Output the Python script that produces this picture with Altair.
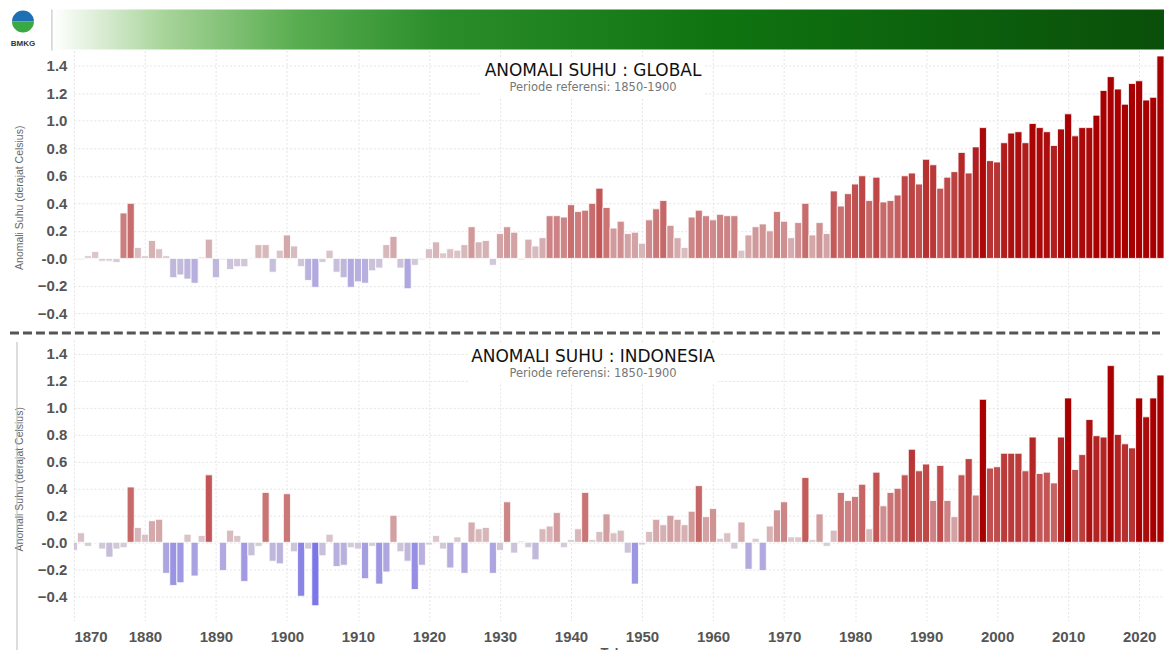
import altair as alt
import pandas as pd

years = list(range(1870, 2024))

global_anom = [
    -0.01, -0.01, 0.02, 0.05, -0.02, -0.02, -0.03, 0.33, 0.40, 0.08,   # 1870s
    0.02, 0.13, 0.07, 0.02, -0.14, -0.12, -0.15, -0.18, 0.01, 0.14,     # 1880s
    -0.14, -0.01, -0.08, -0.06, -0.06, 0.005, 0.10, 0.10, -0.10, 0.06,  # 1890s
    0.17, 0.09, -0.06, -0.16, -0.21, -0.03, 0.06, -0.10, -0.14, -0.21,  # 1900s
    -0.17, -0.18, -0.09, -0.07, 0.10, 0.16, -0.07, -0.22, -0.05, -0.01, # 1910s
    0.07, 0.12, 0.04, 0.07, 0.06, 0.10, 0.23, 0.12, 0.13, -0.05,        # 1920s
    0.18, 0.23, 0.19, -0.01, 0.14, 0.09, 0.15, 0.31, 0.31, 0.30,        # 1930s
    0.39, 0.34, 0.35, 0.40, 0.51, 0.37, 0.22, 0.27, 0.18, 0.19,         # 1940s
    0.11, 0.28, 0.36, 0.42, 0.24, 0.15, 0.08, 0.30, 0.35, 0.31,         # 1950s
    0.28, 0.32, 0.31, 0.31, 0.06, 0.17, 0.23, 0.25, 0.20, 0.34,         # 1960s
    0.27, 0.15, 0.26, 0.40, 0.17, 0.26, 0.18, 0.49, 0.38, 0.47,         # 1970s
    0.54, 0.60, 0.42, 0.59, 0.41, 0.42, 0.46, 0.60, 0.62, 0.54,         # 1980s
    0.72, 0.68, 0.51, 0.59, 0.63, 0.77, 0.62, 0.81, 0.95, 0.71,         # 1990s
    0.70, 0.84, 0.91, 0.92, 0.84, 0.98, 0.95, 0.92, 0.82, 0.94,         # 2000s
    1.05, 0.89, 0.95, 0.95, 1.04, 1.22, 1.32, 1.23, 1.12, 1.27,         # 2010s
    1.29, 1.15, 1.17, 1.47,                                             # 2020s
]

indo_anom = [
    -0.06, 0.07, -0.03, 0.00, -0.05, -0.11, -0.05, -0.04, 0.41, 0.11,   # 1870s
    0.06, 0.16, 0.17, -0.23, -0.32, -0.30, 0.06, -0.25, 0.05, 0.50,     # 1880s
    0.005, -0.21, 0.09, 0.05, -0.29, -0.10, -0.03, 0.37, -0.14, -0.16,  # 1890s
    0.36, -0.07, -0.40, -0.05, -0.47, -0.10, 0.06, -0.18, -0.17, -0.04, # 1900s
    -0.05, -0.27, -0.03, -0.31, -0.22, 0.20, -0.07, -0.14, -0.35, -0.17,# 1910s
    -0.02, 0.05, -0.05, -0.19, 0.04, -0.23, 0.15, 0.10, 0.11, -0.23,    # 1920s
    -0.06, 0.30, -0.08, 0.01, -0.04, -0.13, 0.10, 0.12, 0.22, -0.04,    # 1930s
    0.02, 0.10, 0.37, 0.02, 0.08, 0.21, 0.07, 0.09, -0.08, -0.31,       # 1940s
    -0.02, 0.08, 0.17, 0.13, 0.20, 0.17, 0.13, 0.23, 0.42, 0.19,        # 1950s
    0.25, 0.03, 0.07, -0.05, 0.15, -0.20, 0.03, -0.21, 0.12, 0.24,      # 1960s
    0.30, 0.04, 0.04, 0.48, 0.02, 0.21, -0.03, 0.09, 0.37, 0.31,        # 1970s
    0.34, 0.43, 0.10, 0.52, 0.27, 0.37, 0.40, 0.50, 0.69, 0.53,         # 1980s
    0.58, 0.31, 0.57, 0.31, 0.19, 0.50, 0.62, 0.35, 1.06, 0.55,         # 1990s
    0.56, 0.66, 0.66, 0.66, 0.53, 0.78, 0.51, 0.52, 0.44, 0.78,         # 2000s
    1.07, 0.54, 0.65, 0.91, 0.79, 0.78, 1.31, 0.80, 0.73, 0.70,         # 2010s
    1.07, 0.93, 1.07, 1.24,                                             # 2020s
]

decades = list(range(1870, 2030, 10))
y_ticks = [-0.4, -0.2, 0.0, 0.2, 0.4, 0.6, 0.8, 1.0, 1.2, 1.4]

title_global = "ANOMALI SUHU : GLOBAL"
title_indo = "ANOMALI SUHU : INDONESIA"
subtitle = "Periode referensi: 1850-1900"
y_title = "Anomali Suhu (derajat Celsius)"
x_title = "Tahun"

W = 1092
color_scale = alt.Scale(domain=[-1.0, 0.0, 0.45, 1.0],
                        range=["#1010ff", "#dcd2d6", "#c66060", "#a80000"],
                        clamp=True, interpolate="rgb")

one = pd.DataFrame({"k": [0]})


def panel(values, title, ydom, show_x, title_y, ytitle_y):
    df = pd.DataFrame({"Tahun": years, "Anomali": values})
    if show_x:
        xaxis = alt.Axis(values=decades, format="d", labelFlush=True, labelFlushOffset=0,
                         labelOverlap=False, labelPadding=9, grid=True, title=x_title,
                         titlePadding=2)
    else:
        xaxis = alt.Axis(values=decades, labels=False, grid=True, title=None)
    yaxis = alt.Axis(values=y_ticks,
                     labelExpr="datum.value == 0 ? '-0.0' : format(datum.value, '.1f')",
                     title=y_title, titlePadding=13, labelPadding=7, titleY=ytitle_y)
    bars = alt.Chart(df).transform_calculate(
        x0="datum.Tahun - 0.5", x1="datum.Tahun + 0.5", z="0"
    ).mark_bar(clip=True, stroke="white", strokeWidth=0.8).encode(
        x=alt.X("x0:Q", scale=alt.Scale(domain=[1870, 2023.5], nice=False, zero=False), axis=xaxis),
        x2="x1:Q",
        y=alt.Y("Anomali:Q", scale=alt.Scale(domain=ydom, nice=False, zero=False), axis=yaxis),
        y2="z:Q",
        color=alt.Color("Anomali:Q", scale=color_scale, legend=None),
    )
    box = alt.Chart(one).mark_rect(fill="white").encode(
        x=alt.value(395 if show_x else 408), x2=alt.value(645 if show_x else 632),
        y=alt.value(title_y - 13), y2=alt.value(title_y + 26))
    t1 = alt.Chart(one).mark_text(font="DejaVu Sans", fontSize=17, color="#111",
                                  baseline="middle", align="center").encode(
        x=alt.value(520), y=alt.value(title_y), text=alt.value(title))
    t2 = alt.Chart(one).mark_text(font="DejaVu Sans", fontSize=11.5, color="#777",
                                  baseline="middle", align="center").encode(
        x=alt.value(520), y=alt.value(title_y + 17), text=alt.value(subtitle))
    return bars, box, t1, t2


b1, box1, t1a, t1b = panel(global_anom, title_global, [-0.52, 1.51], False, 21, 147)
b2, box2, t2a, t2b = panel(indo_anom, title_indo, [-0.58, 1.5], True, 17, 139)

# header decorations (slide banner)
header = alt.Chart(one).mark_rect(
    color=alt.Gradient(gradient="linear",
                       stops=[alt.GradientStop(color="#ffffff", offset=0),
                              alt.GradientStop(color="#a8d49a", offset=0.1),
                              alt.GradientStop(color="#58ad4f", offset=0.22),
                              alt.GradientStop(color="#2a8d2a", offset=0.35),
                              alt.GradientStop(color="#0f7410", offset=0.6),
                              alt.GradientStop(color="#0a4f0a", offset=1)],
                       x1=0, x2=1, y1=0, y2=0)
).encode(x=alt.value(-21), x2=alt.value(W), y=alt.value(-41), y2=alt.value(-1))
frame = alt.Chart(one).mark_rule(color="#bbbbbb", strokeWidth=1).encode(
    x=alt.value(-22), y=alt.value(-41), y2=alt.value(0))
logo_top = alt.Chart(one).mark_arc(radius=11, theta=4.712, theta2=7.854, color="#1f6fb5").encode(
    x=alt.value(-51), y=alt.value(-29))
logo_bot = alt.Chart(one).mark_arc(radius=11, theta=1.571, theta2=4.712, color="#3aa845").encode(
    x=alt.value(-51), y=alt.value(-29))
logo_txt = alt.Chart(one).mark_text(font="Liberation Sans", fontWeight="bold", fontSize=8,
                                    color="#333").encode(
    x=alt.value(-51), y=alt.value(-7), text=alt.value("BMKG"))
sep = alt.Chart(one).mark_rule(color="#555555", strokeWidth=3, strokeDash=[9, 4]).encode(
    x=alt.value(-64), x2=alt.value(1088), y=alt.value(283))

top = alt.layer(b1, box1, t1a, t1b, header, frame, logo_top, logo_bot, logo_txt, sep).properties(
    width=W, height=280)

leftline = alt.Chart(one).mark_rule(color="#bbbbbb", strokeWidth=1).encode(
    x=alt.value(-57), y=alt.value(2), y2=alt.value(320))
bottom = alt.layer(b2, box2, t2a, t2b, leftline).properties(width=W, height=281)

chart = alt.vconcat(top, bottom, spacing=10, bounds="flush").properties(
    padding=0,
).configure_view(strokeWidth=0).configure_axis(
    domain=False, ticks=False,
    labelFont="Liberation Sans", labelFontWeight="bold", labelFontSize=15, labelColor="#555555",
    titleFont="Liberation Sans", titleFontWeight="normal", titleFontSize=10.5, titleColor="#666666",
    gridColor="#e4e4e4", gridDash=[2, 2], gridWidth=1,
).configure_axisX(titleFont="Liberation Sans", titleFontWeight="bold", titleFontSize=13,
                  titleColor="#555555")

chart.save("out.html", embed_options={"renderer": "svg", "actions": False})
